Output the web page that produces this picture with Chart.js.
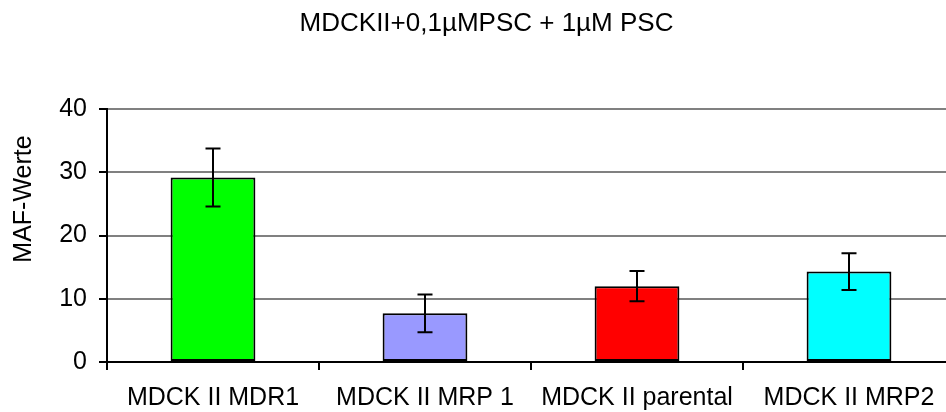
<!DOCTYPE html>
<html>
<head>
<meta charset="utf-8">
<title>MAF-Werte</title>
<script src="https://cdn.jsdelivr.net/npm/chart.js@4/dist/chart.umd.min.js"></script>
<style>
  html, body { margin: 0; padding: 0; background: #fff; overflow: hidden; }
  #wrap { width: 973px; height: 412px; }
</style>
</head>
<body>
<div id="wrap">
  <canvas id="mafChart" width="973" height="412"></canvas>
</div>
<script>
// Zelllinien und MAF-Werte (Mittelwert +/- Fehler)
const zelllinien = ['MDCK II MDR1', 'MDCK II MRP 1', 'MDCK II parental', 'MDCK II MRP2'];
const mafWerte = [29.2, 7.7, 12.0, 14.3];
const mafFehler = [4.6, 3.0, 2.4, 2.9];
const balkenFarben = ['#00ff00', '#9999ff', '#ff0000', '#00ffff'];
const yTicks = [0, 10, 20, 30, 40];

const schrift = { family: "'Liberation Sans', Arial, sans-serif", size: 25 };

// Fehlerbalken über die Balken zeichnen
const fehlerbalken = {
  id: 'fehlerbalken',
  afterDatasetsDraw(chart) {
    const ctx = chart.ctx;
    const meta = chart.getDatasetMeta(0);
    const y = chart.scales.y;
    ctx.save();
    ctx.strokeStyle = '#000';
    ctx.lineWidth = 2;
    meta.data.forEach((bar, i) => {
      const oben = y.getPixelForValue(mafWerte[i] + mafFehler[i]);
      const unten = y.getPixelForValue(mafWerte[i] - mafFehler[i]);
      const x = bar.x;
      ctx.beginPath();
      ctx.moveTo(x, oben); ctx.lineTo(x, unten);
      ctx.moveTo(x - 7.5, oben); ctx.lineTo(x + 7.5, oben);
      ctx.moveTo(x - 7.5, unten); ctx.lineTo(x + 7.5, unten);
      ctx.stroke();
    });
    ctx.restore();
  }
};

// Achsentitel der y-Achse
const yTitel = {
  id: 'yTitel',
  afterDraw(chart) {
    const ctx = chart.ctx;
    ctx.save();
    ctx.translate(24, 199);
    ctx.rotate(-Math.PI / 2);
    ctx.font = schrift.size + 'px ' + schrift.family;
    ctx.fillStyle = '#000';
    ctx.textAlign = 'center';
    ctx.textBaseline = 'middle';
    ctx.fillText('MAF-Werte', 0, 0);
    ctx.restore();
  }
};

new Chart(document.getElementById('mafChart'), {
  type: 'bar',
  data: {
    labels: zelllinien,
    datasets: [{
      data: mafWerte,
      backgroundColor: balkenFarben,
      borderColor: '#000',
      borderWidth: 2,
      borderSkipped: false,
      barPercentage: 0.4,
      categoryPercentage: 1.0
    }]
  },
  options: {
    responsive: false,
    animation: false,
    layout: { padding: { left: 18, right: 18, top: 0, bottom: 0 } },
    plugins: {
      legend: { display: false },
      tooltip: { enabled: false },
      title: {
        display: true,
        text: 'MDCKII+0,1µMPSC + 1µM PSC',
        color: '#000',
        font: { family: schrift.family, size: 26, weight: 'normal' },
        padding: { top: 8, bottom: 70 }
      }
    },
    scales: {
      x: {
        afterFit(s) { s.height = 50; },
        grid: { drawOnChartArea: false, tickColor: '#000', tickLength: 8, lineWidth: 2, offset: true },
        border: { color: '#000', width: 2 },
        ticks: { color: '#000', font: schrift, padding: 13, maxRotation: 0, autoSkip: false }
      },
      y: {
        min: 0,
        max: 40,
        afterFit(s) { s.width = 89; },
        afterBuildTicks(s) { s.ticks = yTicks.map(v => ({ value: v })); },
        grid: { color: '#808080', lineWidth: 2, tickColor: '#000', tickLength: 8 },
        border: { color: '#000', width: 2 },
        ticks: { color: '#000', font: schrift, padding: 12 }
      }
    }
  },
  plugins: [fehlerbalken, yTitel]
});
</script>
</body>
</html>
